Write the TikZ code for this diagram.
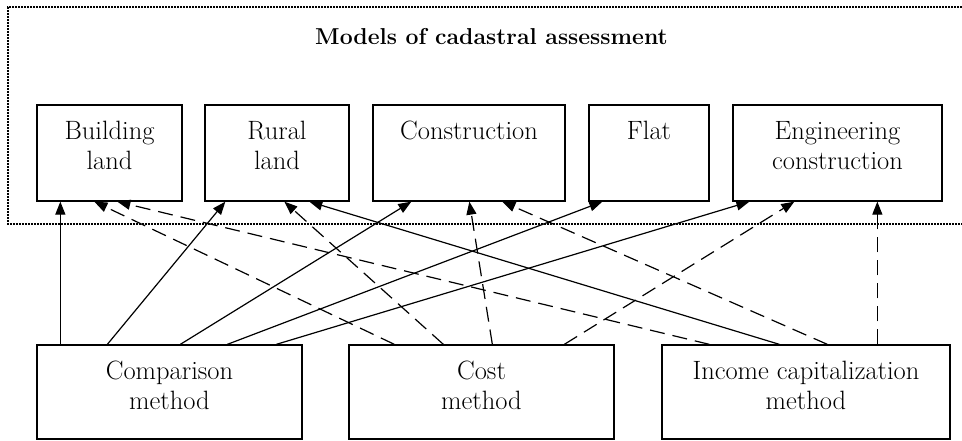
\documentclass[tikz,border=0pt]{standalone}
\usetikzlibrary{arrows.meta}
\begin{document}
\begin{tikzpicture}[x=1pt,y=-1pt,
  boxnode/.style={draw,line width=1.3pt,inner sep=0pt,minimum height=96pt},
  lowbox/.style={draw,line width=1.3pt,inner sep=0pt,minimum height=94pt,minimum width=265pt},
  txt/.style={align=center,inner sep=0pt,anchor=north,font=\fontsize{26.5}{30}\selectfont},
  conn/.style={line width=1.2pt,-{Triangle[length=13pt,width=10pt]}},
  dconn/.style={conn,dash pattern=on 15pt off 8pt},
  frame/.style={line width=1.8pt,dash pattern=on 1.8pt off 1.2pt}]
\useasboundingbox (0,0) rectangle (962,441);
% dotted frame
\draw[frame] (962,7) -- (8,7) -- (8,224) -- (962,224);
\node[anchor=base,inner sep=0pt,font=\fontsize{23}{27}\selectfont\bfseries] (title) at (491.5,45) {Models of cadastral assessment};
% top boxes
\node[boxnode,minimum width=145pt] (bl) at (109.5,153) {};
\node[boxnode,minimum width=144pt] (rl) at (277,153) {};
\node[boxnode,minimum width=192pt] (con) at (469,153) {};
\node[boxnode,minimum width=120pt] (flat) at (649,153) {};
\node[boxnode,minimum width=209pt] (eng) at (837.5,153) {};
\node[txt] (blt) at ([yshift=-14pt]bl.north) {\strut Building\\\strut land};
\node[txt] (rlt) at ([yshift=-14pt]rl.north) {\strut Rural\\\strut land};
\node[txt] (cont) at ([yshift=-14pt]con.north) {\strut Construction};
\node[txt] (flatt) at ([yshift=-14pt]flat.north) {\strut Flat};
\node[txt] (engt) at ([yshift=-14pt]eng.north) {\strut Engineering\\\strut construction};
% bottom boxes
\node[lowbox] (cmp) at (169.5,392) {};
\node[lowbox] (cost) at (481.5,392) {};
\node[lowbox,minimum width=288pt] (inc) at (806,392) {};
\node[txt] (cmpt) at ([yshift=-14pt]cmp.north) {\strut Comparison\\\strut method};
\node[txt] (costt) at ([yshift=-14pt]cost.north) {\strut Cost\\\strut method};
\node[txt] (inct) at ([yshift=-14pt]inc.north) {\strut Income capitalization\\\strut method};
% comparison method
\draw[conn] ([xshift=24pt]cmp.north west) -- ([xshift=24pt]bl.south west);
\draw[conn] ([xshift=71pt]cmp.north west) -- ([xshift=21pt]rl.south west);
\draw[conn] ([xshift=144pt]cmp.north west) -- ([xshift=39pt]con.south west);
\draw[conn] ([xshift=191pt]cmp.north west) -- ([xshift=14pt]flat.south west);
\draw[conn] ([xshift=240pt]cmp.north west) -- ([xshift=17pt]eng.south west);
% cost method
\draw[dconn] ([xshift=46pt]cost.north west) -- ([xshift=58pt]bl.south west);
\draw[dconn] ([xshift=95pt]cost.north west) -- ([xshift=80pt]rl.south west);
\draw[dconn] ([xshift=144pt]cost.north west) -- ([xshift=97pt]con.south west);
\draw[dconn] ([xshift=216pt]cost.north west) -- ([xshift=62pt]eng.south west);
% income capitalization method
\draw[dconn] ([xshift=48pt]inc.north west) -- ([xshift=81pt]bl.south west);
\draw[conn] ([xshift=118pt]inc.north west) -- ([xshift=105pt]rl.south west);
\draw[dconn] ([xshift=166pt]inc.north west) -- ([xshift=130pt]con.south west);
\draw[dconn] ([xshift=216pt]inc.north west) -- ([xshift=145pt]eng.south west);
\end{tikzpicture}
\end{document}
